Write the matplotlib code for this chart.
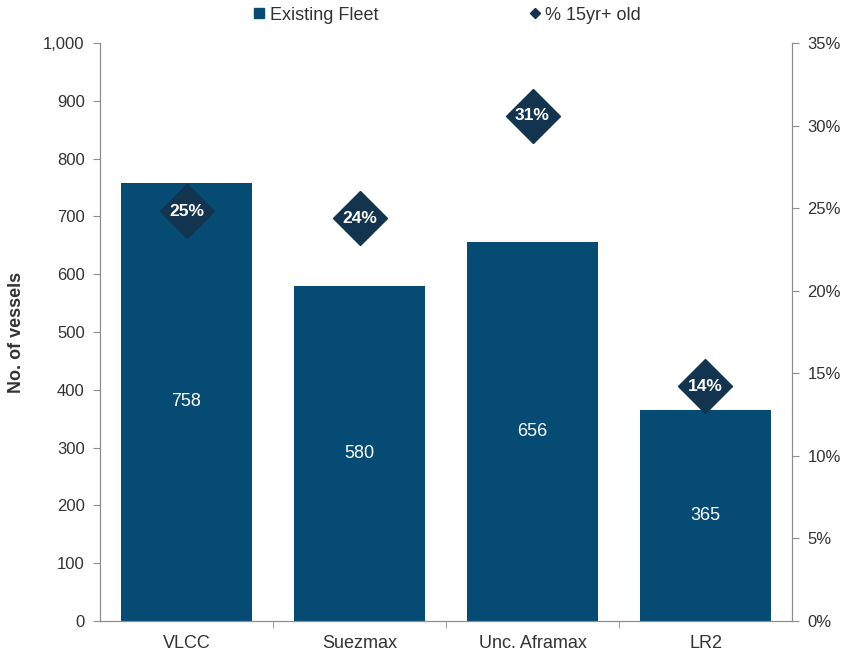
import matplotlib
matplotlib.use("Agg")
import matplotlib.pyplot as plt
from matplotlib.lines import Line2D
from matplotlib.ticker import FuncFormatter, FixedLocator
import numpy as np

categories = ["VLCC", "Suezmax", "Unc. Aframax", "LR2"]
fleet = [758, 580, 656, 365]
pct_old = [24.8, 24.4, 30.6, 14.2]

plt.rcParams['font.family'] = ['Liberation Sans', 'DejaVu Sans']
bar_color = "#064b73"
dia_color = "#12344f"
text_color = "#333333"
spine_color = "#8c8c8c"

fig = plt.figure(figsize=(8.46, 6.63), dpi=100)
ax = fig.add_axes([100/846, 42/663, 692/846, 578/663])
ax2 = ax.twinx()

x = np.arange(len(categories))
ax.bar(x, fleet, width=0.76, color=bar_color, zorder=2)
for xi, v in zip(x, fleet):
    ax.text(xi, v / 2, f"{v}", ha="center", va="center", color="white", fontsize=13)

ax.set_xlim(-0.5, len(categories) - 0.5)
ax.set_ylim(0, 1000)
ax.set_yticks(np.arange(0, 1001, 100))
ax.yaxis.set_major_formatter(FuncFormatter(lambda v, p: f"{int(v):,}"))
ax.set_xticks(x)
ax.set_xticklabels(categories)
ax.xaxis.set_minor_locator(FixedLocator([0.5, 1.5, 2.5]))
ax.tick_params(axis="x", which="major", length=0, pad=10, labelsize=13, labelcolor=text_color)
ax.tick_params(axis="x", which="minor", length=5, color=spine_color, direction="out")
ax.tick_params(axis="y", length=5, color=spine_color, labelsize=12, labelcolor=text_color, pad=6)
ax.set_ylabel("No. of vessels", fontsize=13, fontweight="bold", color=text_color, labelpad=13)

ax2.set_ylim(0, 35)
ax2.set_yticks(np.arange(0, 36, 5))
ax2.yaxis.set_major_formatter(FuncFormatter(lambda v, p: f"{int(v)}%"))
ax2.tick_params(axis="y", length=5, color=spine_color, labelsize=12, labelcolor=text_color, pad=6)
ax2.plot(x, pct_old, linestyle="none", marker="D", markersize=28, color=dia_color, zorder=3)
for xi, v in zip(x, pct_old):
    ax2.text(xi, v, f"{round(v)}%", ha="center", va="center", color="white",
             fontsize=12.5, fontweight="bold", zorder=4)

for a in (ax, ax2):
    a.spines["top"].set_visible(False)
    for s in ("left", "right", "bottom"):
        a.spines[s].set_color(spine_color)

handles = [
    Line2D([], [], linestyle="none", marker="s", markersize=7.5, color=bar_color),
    Line2D([], [], linestyle="none", marker="D", markersize=5.5, color=dia_color),
]
fig.legend(handles, ["Existing Fleet", "% 15yr+ old"], loc="center",
           bbox_to_anchor=(447/846, 1 - 15/663), ncol=2, frameon=False,
           handlelength=0.7, handletextpad=0.25, columnspacing=8.3,
           fontsize=13, labelcolor=text_color)

fig.savefig("out.png", dpi=100)
